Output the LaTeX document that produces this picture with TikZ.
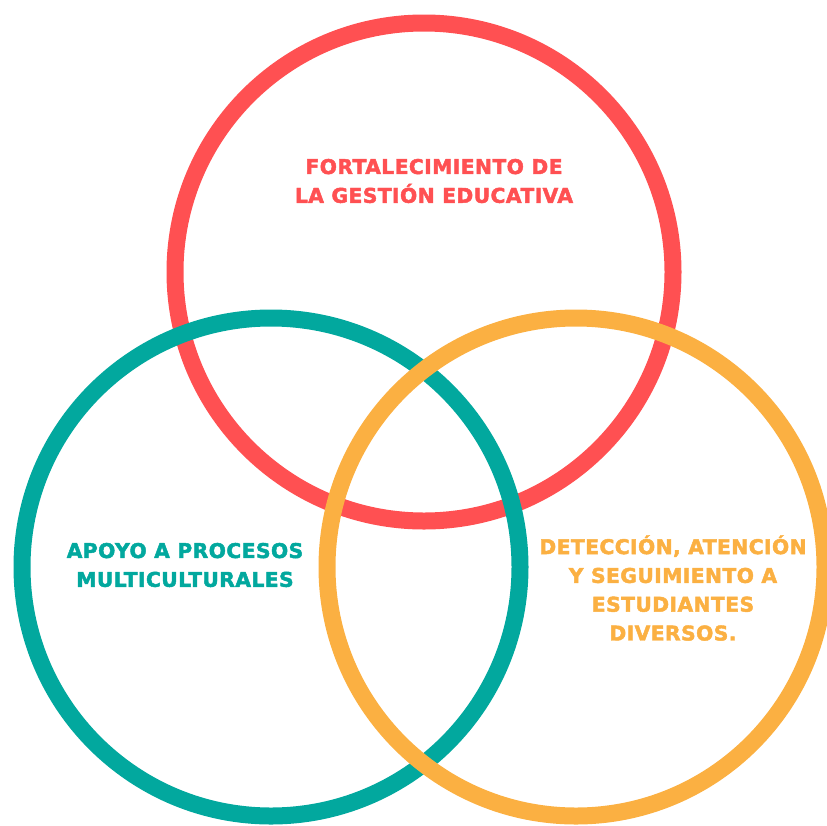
\documentclass[tikz,border=0pt]{standalone}
\usepackage{fontspec}
\usepackage{tikz}
\usepackage{xcolor}
\newfontfamily\vennfont[LetterSpace=2, FakeBold=2.2]{DejaVu Sans}
\definecolor{venn-red}{HTML}{FF5052}
\definecolor{venn-teal}{HTML}{02A89E}
\definecolor{venn-orange}{HTML}{FBB042}
\tikzset{
    ring/.style = {circle, draw, line width=17pt, minimum size=498pt, inner sep=0pt},
    ring-label/.style = {align=center, font=\vennfont\bfseries\fontsize{20.3}{28.8}\selectfont},
}

\begin{document}
\begin{tikzpicture}[x=1pt, y=-1pt]
\useasboundingbox (0,0) rectangle (827,825);
\node [ring, draw=venn-red] (gestion) at (424,272) {};
\node [ring, draw=venn-teal] (apoyo) at (271,567) {};
\node [ring, draw=venn-orange] (deteccion) at (576,567) {};
\node [ring-label, text=venn-red] (gestion-text) at (434,181) {FORTALECIMIENTO DE\\LA GESTIÓN EDUCATIVA};
\node [ring-label, text=venn-teal] (apoyo-text) at (185,565) {APOYO A PROCESOS\\MULTICULTURALES};
\node [ring-label, text=venn-orange] (deteccion-text) at (673,588) {DETECCIÓN, ATENCIÓN\\Y SEGUIMIENTO A\\ESTUDIANTES\\DIVERSOS.};
\end{tikzpicture}
\end{document}
